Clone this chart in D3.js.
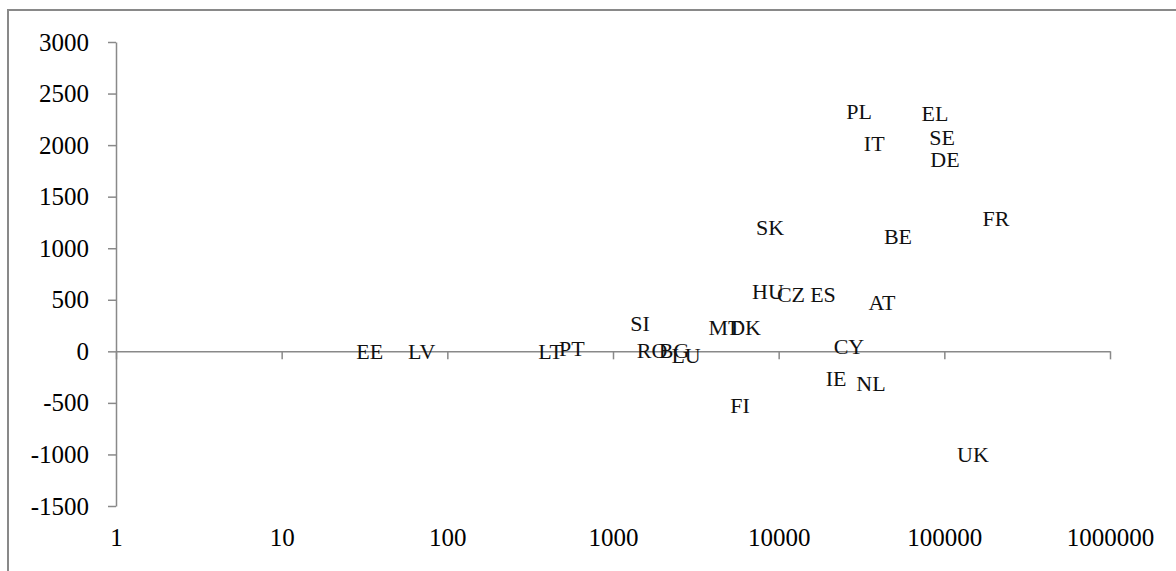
<!DOCTYPE html>
<html>
<head>
<meta charset="utf-8">
<script src="https://cdn.jsdelivr.net/npm/d3@7"></script>
<style>
  body { margin: 0; background: #fff; }
  svg { display: block; font-family: "Liberation Serif", "Times New Roman", serif; }
  .axis path, .axis line { stroke: #898989; stroke-width: 1.5; }
  .axis text { font-family: "Liberation Serif", "Times New Roman", serif; font-size: 25px; fill: #000; }
  .lbl { font-size: 22px; fill: #111; }
</style>
</head>
<body>
<div id="chart"></div>
<script>
// country codes and their positions (x on log scale, y linear)
var countries = ["EE","LV","LT","PT","SI","RO","BG","LU","MT","DK","FI","HU","CZ","ES","SK",
                 "CY","IE","NL","AT","BE","PL","IT","EL","SE","DE","FR","UK"];
var xValues = [34, 70, 420, 565, 1455, 1720, 2335, 2760, 4745, 6265, 5840, 8610, 11860, 18520, 8870,
               26560, 22190, 36070, 42060, 52500, 30550, 37750, 87900, 96800, 100900, 205000, 148900];
var yValues = [0, 0, 0, 25, 267, 5, 5, -43, 230, 230, -527, 578, 548, 548, 1198,
               45, -267, -315, 470, 1110, 2330, 2011, 2310, 2078, 1865, 1284, -1002];
var xTicks = [1, 10, 100, 1000, 10000, 100000, 1000000];
var yTicks = [-1500, -1000, -500, 0, 500, 1000, 1500, 2000, 2500, 3000];

var width = 1176, height = 571;
var svg = d3.select("#chart").append("svg")
  .attr("width", width)
  .attr("height", height);

// chart area border (runs off the right and bottom edges)
svg.append("rect")
  .attr("x", 8).attr("y", 10)
  .attr("width", 1300).attr("height", 700)
  .attr("fill", "none")
  .attr("stroke", "#898989")
  .attr("stroke-width", 2);

var x = d3.scaleLog().domain([1, 1000000]).range([116, 1110]);
var y = d3.scaleLinear().domain([-1500, 3000]).range([506, 42]);
var plain = function(d) { return String(d); };

// y axis
svg.append("g")
  .attr("class", "axis")
  .attr("transform", "translate(" + x(1) + ",0)")
  .call(d3.axisLeft(y).tickValues(yTicks).tickSize(8).tickSizeOuter(0).tickPadding(19)
    .tickFormat(plain));

// x axis crossing at zero, ticks only
svg.append("g")
  .attr("class", "axis")
  .attr("transform", "translate(0," + y(0) + ")")
  .call(d3.axisBottom(x).tickValues(xTicks).tickSize(8).tickSizeOuter(0).tickFormat(""));

// x tick labels sit at the bottom of the plot
svg.append("g")
  .attr("class", "axis")
  .attr("transform", "translate(0,528)")
  .call(d3.axisBottom(x).tickValues(xTicks).tickSize(0).tickPadding(0).tickFormat(plain))
  .call(function(g) { g.select(".domain").remove(); });

// data labels (markers hidden)
svg.selectAll(".lbl")
  .data(countries)
  .enter().append("text")
  .attr("class", "lbl")
  .attr("x", function(d, i) { return x(xValues[i]); })
  .attr("y", function(d, i) { return y(yValues[i]); })
  .attr("text-anchor", "middle")
  .attr("dominant-baseline", "central")
  .text(function(d) { return d; });
</script>
</body>
</html>
